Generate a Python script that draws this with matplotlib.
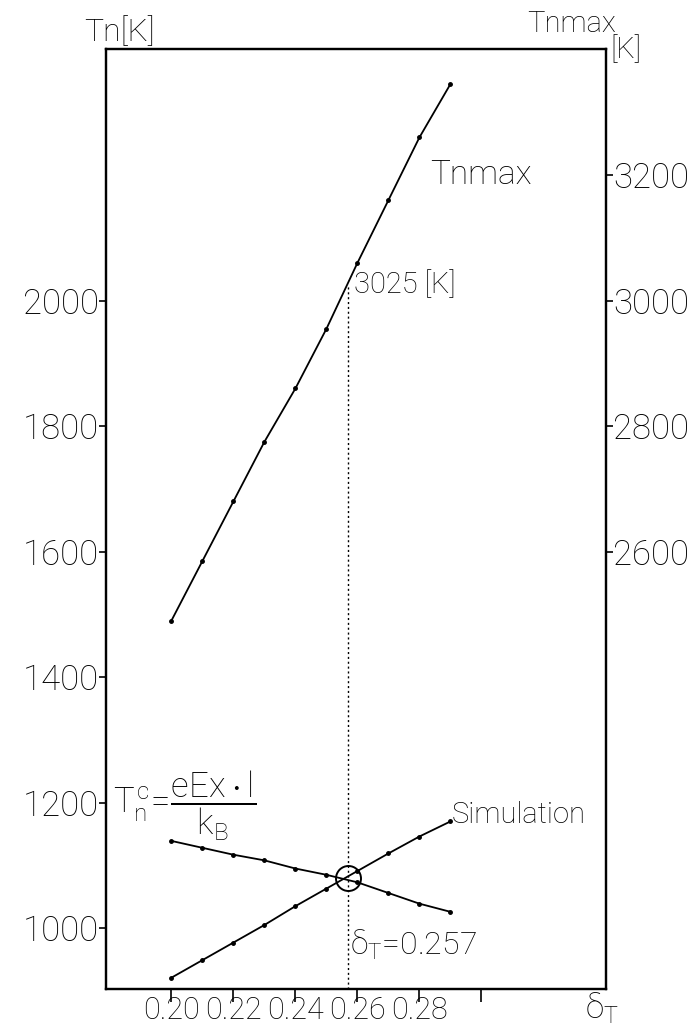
import matplotlib.pyplot as plt

plt.rcParams['font.family'] = ['Roboto', 'DejaVu Sans']
plt.rcParams['font.weight'] = 'light'
plt.rcParams['mathtext.fontset'] = 'custom'
plt.rcParams['mathtext.rm'] = 'Roboto:light'
plt.rcParams['mathtext.it'] = 'Roboto:light'
plt.rcParams['mathtext.bf'] = 'Roboto:light'

# relative temperature width delta_T (sampled every 0.01)
delta_t = [0.20, 0.21, 0.22, 0.23, 0.24, 0.25, 0.26, 0.27, 0.28, 0.29]
# peak electron temperature, right axis [K]
tn_max = [2490, 2585, 2680, 2775, 2860, 2955, 3060, 3160, 3260, 3345]
# analytic Tn^c = eEx*l/kB, left axis [K]
tn_c = [1139, 1128, 1117, 1108, 1095, 1085, 1073, 1056, 1039, 1026]
# simulated Tn, left axis [K]
tn_sim = [921, 949, 977, 1005, 1035, 1063, 1091, 1119, 1146, 1170]

delta_cross = 0.257
tn_cross = 1080
tn_max_cross = 3025

x_ticks = [0.20, 0.22, 0.24, 0.26, 0.28, 0.30]
x_tick_labels = ['0.20', '0.22', '0.24', '0.26', '0.28', '']
left_ticks = [1000, 1200, 1400, 1600, 1800, 2000]
right_ticks = [2600, 2800, 3000, 3200]

W, H = 693, 1032


def px(x, y):
    # pixel position -> figure fraction
    return x / W, 1 - y / H


fig = plt.figure(figsize=(W / 100, H / 100), dpi=100)
ax = fig.add_axes([106 / W, 1 - 989 / H, 500 / W, 940 / H])
ax2 = ax.twinx()

ax.set_xlim(0.1789, 0.3402)
ax.set_ylim(903, 2401)
ax2.set_ylim(1903, 3401)

for a in (ax, ax2):
    for s in a.spines.values():
        s.set_linewidth(1.6)

ax.set_xticks(x_ticks)
ax.set_xticklabels(x_tick_labels)
ax.set_yticks(left_ticks)
ax2.set_yticks(right_ticks)
ax.tick_params(axis='x', direction='out', length=9, width=1.2, pad=-4,
               labelsize=22)
ax.tick_params(axis='y', direction='out', length=5, width=1.2, pad=0,
               labelsize=25)
ax2.tick_params(axis='y', direction='out', length=5, width=1.2, pad=0,
                labelsize=25)

line_kw = dict(color='k', lw=1.3, marker='o', ms=2.5)
ax2.plot(delta_t, tn_max, **line_kw)
ax.plot(delta_t, tn_c, **line_kw)
ax.plot(delta_t, tn_sim, **line_kw)

# crossing point and its projection up to Tnmax
ax.plot(delta_cross, tn_cross, marker='o', ms=18, mfc='none', mec='k', mew=1.4)
ax2.plot([delta_cross, delta_cross], [1903, tn_max_cross], color='k', lw=1.0,
         linestyle=(0, (1.5, 2)))

ax2.text(0.2835, 3200, 'Tnmax', fontsize=24, va='center', ha='left')
ax2.text(delta_cross + 0.0018, tn_max_cross, '3025 [K]', fontsize=21,
         va='center', ha='left')
ax.text(0.2905, 1180, 'Simulation', fontsize=21, va='center', ha='left')
ax.text(delta_cross + 0.0005, 973, r'$\delta_T$=0.257', fontsize=23,
        va='center', ha='left')

fig.text(*px(113, 806), r'$T_n^c\!=\!\dfrac{eEx\cdot l}{k_B}$', fontsize=25,
         va='center', ha='left')
fig.text(*px(84, 47), 'Tn[K]', fontsize=23, va='bottom', ha='left')
fig.text(*px(616, 38), 'Tnmax', fontsize=21, va='bottom', ha='right')
fig.text(*px(610, 64), '[K]', fontsize=21, va='bottom', ha='left')
fig.text(*px(602, 1008), r'$\delta_T$', fontsize=24, va='center', ha='center')

fig.savefig('out.png', dpi=100)
